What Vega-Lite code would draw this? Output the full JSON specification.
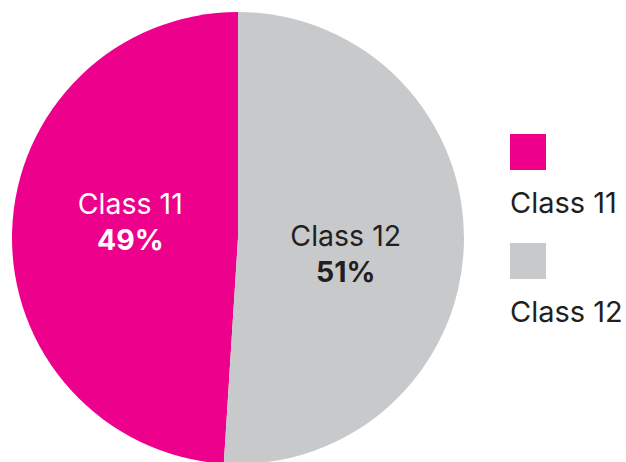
{
  "$schema": "https://vega.github.io/schema/vega-lite/v6.json",
  "padding": {"left": 12, "top": 12, "right": 0, "bottom": 0},
  "background": "white",
  "data": {"values": [
    {"class": "Class 11", "share": 49, "label": "49%"},
    {"class": "Class 12", "share": 51, "label": "51%"}
  ]},
  "spacing": 46,
  "hconcat": [
    {
      "width": 452,
      "height": 452,
      "encoding": {
        "theta": {"field": "share", "type": "quantitative", "stack": true},
        "order": {"field": "class", "sort": "descending"}
      },
      "layer": [
        {
          "mark": {"type": "arc", "outerRadius": 226},
          "encoding": {
            "color": {
              "field": "class", "type": "nominal",
              "scale": {"domain": ["Class 11", "Class 12"], "range": ["#EC008C", "#C8C9CB"]},
              "legend": null
            }
          }
        },
        {
          "mark": {"type": "text", "radius": 109, "thetaOffset": 0.12, "dy": -17, "font": "Inter", "fontSize": 28.5},
          "encoding": {
            "text": {"field": "class"},
            "color": {"condition": {"test": "datum.class === 'Class 11'", "value": "#FFFFFF"}, "value": "#231F20"}
          }
        },
        {
          "mark": {"type": "text", "radius": 109, "thetaOffset": 0.12, "dy": 19, "font": "Inter", "fontSize": 28.5, "fontWeight": "bold"},
          "encoding": {
            "text": {"field": "label"},
            "color": {"condition": {"test": "datum.class === 'Class 11'", "value": "#FFFFFF"}, "value": "#231F20"}
          }
        }
      ]
    },
    {
      "width": 36,
      "height": 327,
      "encoding": {
        "y": {
          "field": "class", "type": "nominal",
          "scale": {"type": "point", "domain": ["Class 11", "Class 12"], "padding": 1, "align": 0.642},
          "axis": null
        }
      },
      "layer": [
        {
          "mark": {"type": "square", "size": 1296, "filled": true, "opacity": 1, "strokeWidth": 0},
          "encoding": {
            "color": {
              "field": "class", "type": "nominal",
              "scale": {"domain": ["Class 11", "Class 12"], "range": ["#EC008C", "#C8C9CB"]},
              "legend": null
            }
          }
        },
        {
          "mark": {"type": "text", "align": "left", "baseline": "alphabetic", "dx": -18, "dy": 61, "font": "Inter", "fontSize": 29, "color": "#231F20"},
          "encoding": {"text": {"field": "class"}}
        }
      ]
    }
  ],
  "config": {"view": {"stroke": null}}
}
